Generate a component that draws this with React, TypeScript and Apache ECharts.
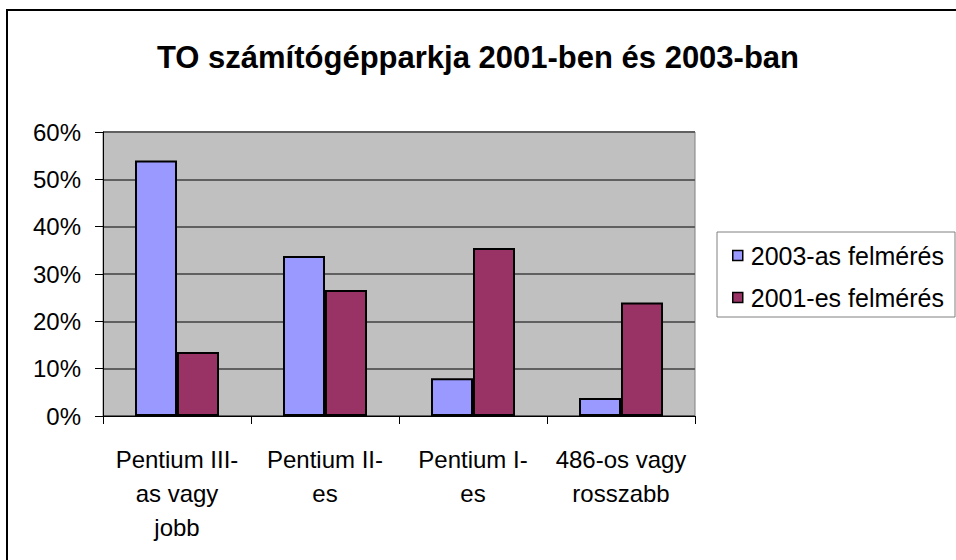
import React, { useEffect, useRef } from "react";
import * as echarts from "echarts";

const categories = [
  "Pentium III-\nas vagy\njobb",
  "Pentium II-\nes",
  "Pentium I-\nes",
  "486-os vagy\nrosszabb",
];
const seriesNames = ["2003-as felmérés", "2001-es felmérés"];
const values2003 = [54.0, 33.8, 8.0, 3.8];
const values2001 = [13.5, 26.6, 35.5, 24.0];
const yTicks = [0, 10, 20, 30, 40, 50, 60];

const FONT = "'Liberation Sans', Arial, sans-serif";

export default function App() {
  const ref = useRef<HTMLDivElement>(null);
  useEffect(() => {
    if (!ref.current) return;
    const chart = echarts.init(ref.current, undefined, { renderer: "svg" });
    chart.setOption({
      animation: false,
      backgroundColor: "#ffffff",
      textStyle: { fontFamily: FONT },
      title: {
        text: "TO számítógépparkja 2001-ben és 2003-ban",
        left: "center",
        top: 37,
        textStyle: { fontFamily: FONT, fontSize: 31, fontWeight: "bold", color: "#000" },
      },
      grid: {
        left: 103,
        right: 261,
        top: 132,
        bottom: 144,
        show: true,
        backgroundColor: "#C0C0C0",
        borderColor: "#808080",
        borderWidth: 1,
      },
      legend: {
        orient: "vertical",
        left: 727,
        top: 238,
        itemWidth: 10,
        itemHeight: 10,
        itemGap: 17,
        itemStyle: { borderColor: "#000", borderWidth: 1.5 },
        textStyle: { fontFamily: FONT, fontSize: 25, color: "#000", padding: [0, 0, 0, 3] },
        data: seriesNames.map((n) => ({ name: n, icon: "rect" })),
      },
      xAxis: {
        type: "category",
        data: categories,
        axisLine: { lineStyle: { color: "#000", width: 1 } },
        axisTick: { show: true, length: 8, lineStyle: { color: "#000" } },
        axisLabel: {
          interval: 0,
          margin: 26,
          fontFamily: FONT,
          fontSize: 24,
          lineHeight: 34,
          color: "#000",
          align: "center",
        },
      },
      yAxis: {
        type: "value",
        min: 0,
        max: 60,
        interval: 10,
        axisLine: { show: true, lineStyle: { color: "#000", width: 1 } },
        axisTick: { show: true, length: 8, lineStyle: { color: "#000" } },
        axisLabel: {
          margin: 22,
          fontFamily: FONT,
          fontSize: 24,
          color: "#000",
          formatter: (v: number) => (yTicks.includes(v) ? v + "%" : ""),
        },
        splitLine: { show: true, lineStyle: { color: "#606060", width: 2 } },
      },
      series: [
        {
          name: seriesNames[0],
          type: "bar",
          data: values2003,
          barWidth: 42,
          barGap: "0%",
          itemStyle: { color: "#9999FF", borderColor: "#000", borderWidth: 2 },
        },
        {
          name: seriesNames[1],
          type: "bar",
          data: values2001,
          barWidth: 42,
          barGap: "0%",
          itemStyle: { color: "#993366", borderColor: "#000", borderWidth: 2 },
        },
      ],
      graphic: [
        {
          type: "rect",
          shape: { x: 7, y: 10, width: 1000, height: 600 },
          style: { fill: "none", stroke: "#000", lineWidth: 2 },
          silent: true,
        },
        {
          type: "rect",
          shape: { x: 717, y: 232, width: 238, height: 85 },
          style: { fill: "none", stroke: "#808080", lineWidth: 1 },
          silent: true,
        },
      ],
    });
    return () => chart.dispose();
  }, []);
  return (
    <div
      ref={ref}
      style={{ position: "fixed", left: 0, top: 0, width: 956, height: 560 }}
    />
  );
}
